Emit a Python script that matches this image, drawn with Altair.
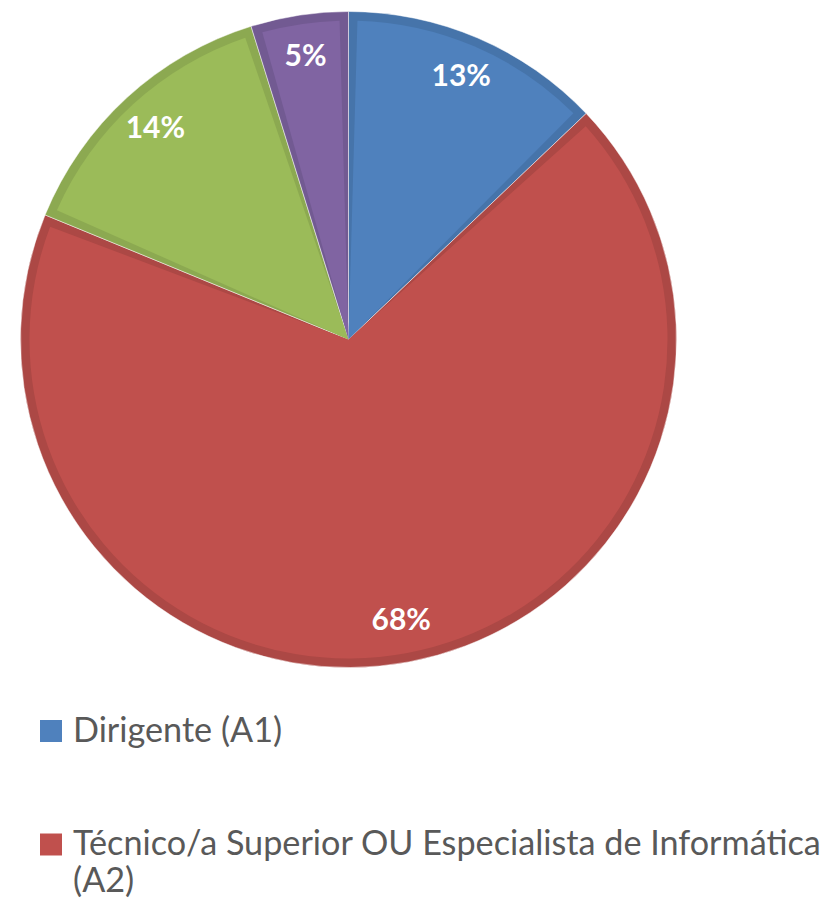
import altair as alt
import pandas as pd

categories = [
    "Dirigente (A1)",
    "Técnico/a Superior OU Especialista de Informática (A2)",
    "Categoria 3",
    "Categoria 4",
]
values = [12.9, 68.3, 14.0, 4.8]
labels = ["13%", "68%", "14%", "5%"]
fills = ["#4F81BD", "#C0504D", "#9BBB59", "#8064A2"]
darks = ["#4674AA", "#AC4845", "#8CA951", "#725A92"]
legend_count = 2

df = pd.DataFrame({
    "cat": categories,
    "value": values,
    "label": labels,
    "order": list(range(len(categories))),
})

legend_df = pd.DataFrame({
    "cat": categories[:legend_count],
    "text": [c if len(c) < 40 else c.replace(" (", "\n(") for c in categories[:legend_count]],
})

CX, CY = 340.5, 331.5

theta = alt.Theta("value:Q", stack=True)
order = alt.Order("order:O")

outer = alt.Chart(df).mark_arc(radius=328, stroke="#ffffff", strokeWidth=0.8, strokeOpacity=0.6).encode(
    theta=theta,
    order=order,
    color=alt.Color("cat:N", scale=alt.Scale(domain=categories, range=darks), legend=None),
    x=alt.value(CX), y=alt.value(CY),
)

inner = alt.Chart(df).mark_arc(radius=319, padAngle=0.056).encode(
    theta=theta,
    order=order,
    color=alt.Color("cat:N", scale=alt.Scale(domain=categories, range=fills), legend=None),
    x=alt.value(CX), y=alt.value(CY),
)

text = alt.Chart(df).mark_text(
    radius=286, font="Lato", fontWeight="bold", fontSize=30, color="white",
    align="center", baseline="middle",
).encode(
    theta=theta,
    order=order,
    text="label:N",
    x=alt.value(CX), y=alt.value(CY),
)

ypos = alt.Y("cat:N", scale=alt.Scale(domain=categories[:legend_count], range=[723, 836.5], padding=0), axis=None)

leg_sq = alt.Chart(legend_df).mark_square(size=484, opacity=1).encode(
    x=alt.value(43),
    y=ypos,
    color=alt.Color("cat:N", scale=alt.Scale(domain=categories, range=fills), legend=None),
)

leg_txt = alt.Chart(legend_df).mark_text(
    align="left", baseline="alphabetic", dy=10.5, font="Lato", fontSize=34.2,
    color="#595959", lineBreak="\n", lineHeight=37,
).encode(
    x=alt.value(65),
    y=ypos,
    text="text:N",
)

chart = alt.layer(outer, inner, text, leg_sq, leg_txt).resolve_scale(
    color="independent", y="shared"
).properties(
    width=818, height=892, padding=0, autosize=alt.AutoSizeParams(type="none")
).configure_view(stroke=None)

chart.save("out.html", embed_options={"renderer": "svg", "actions": False})
